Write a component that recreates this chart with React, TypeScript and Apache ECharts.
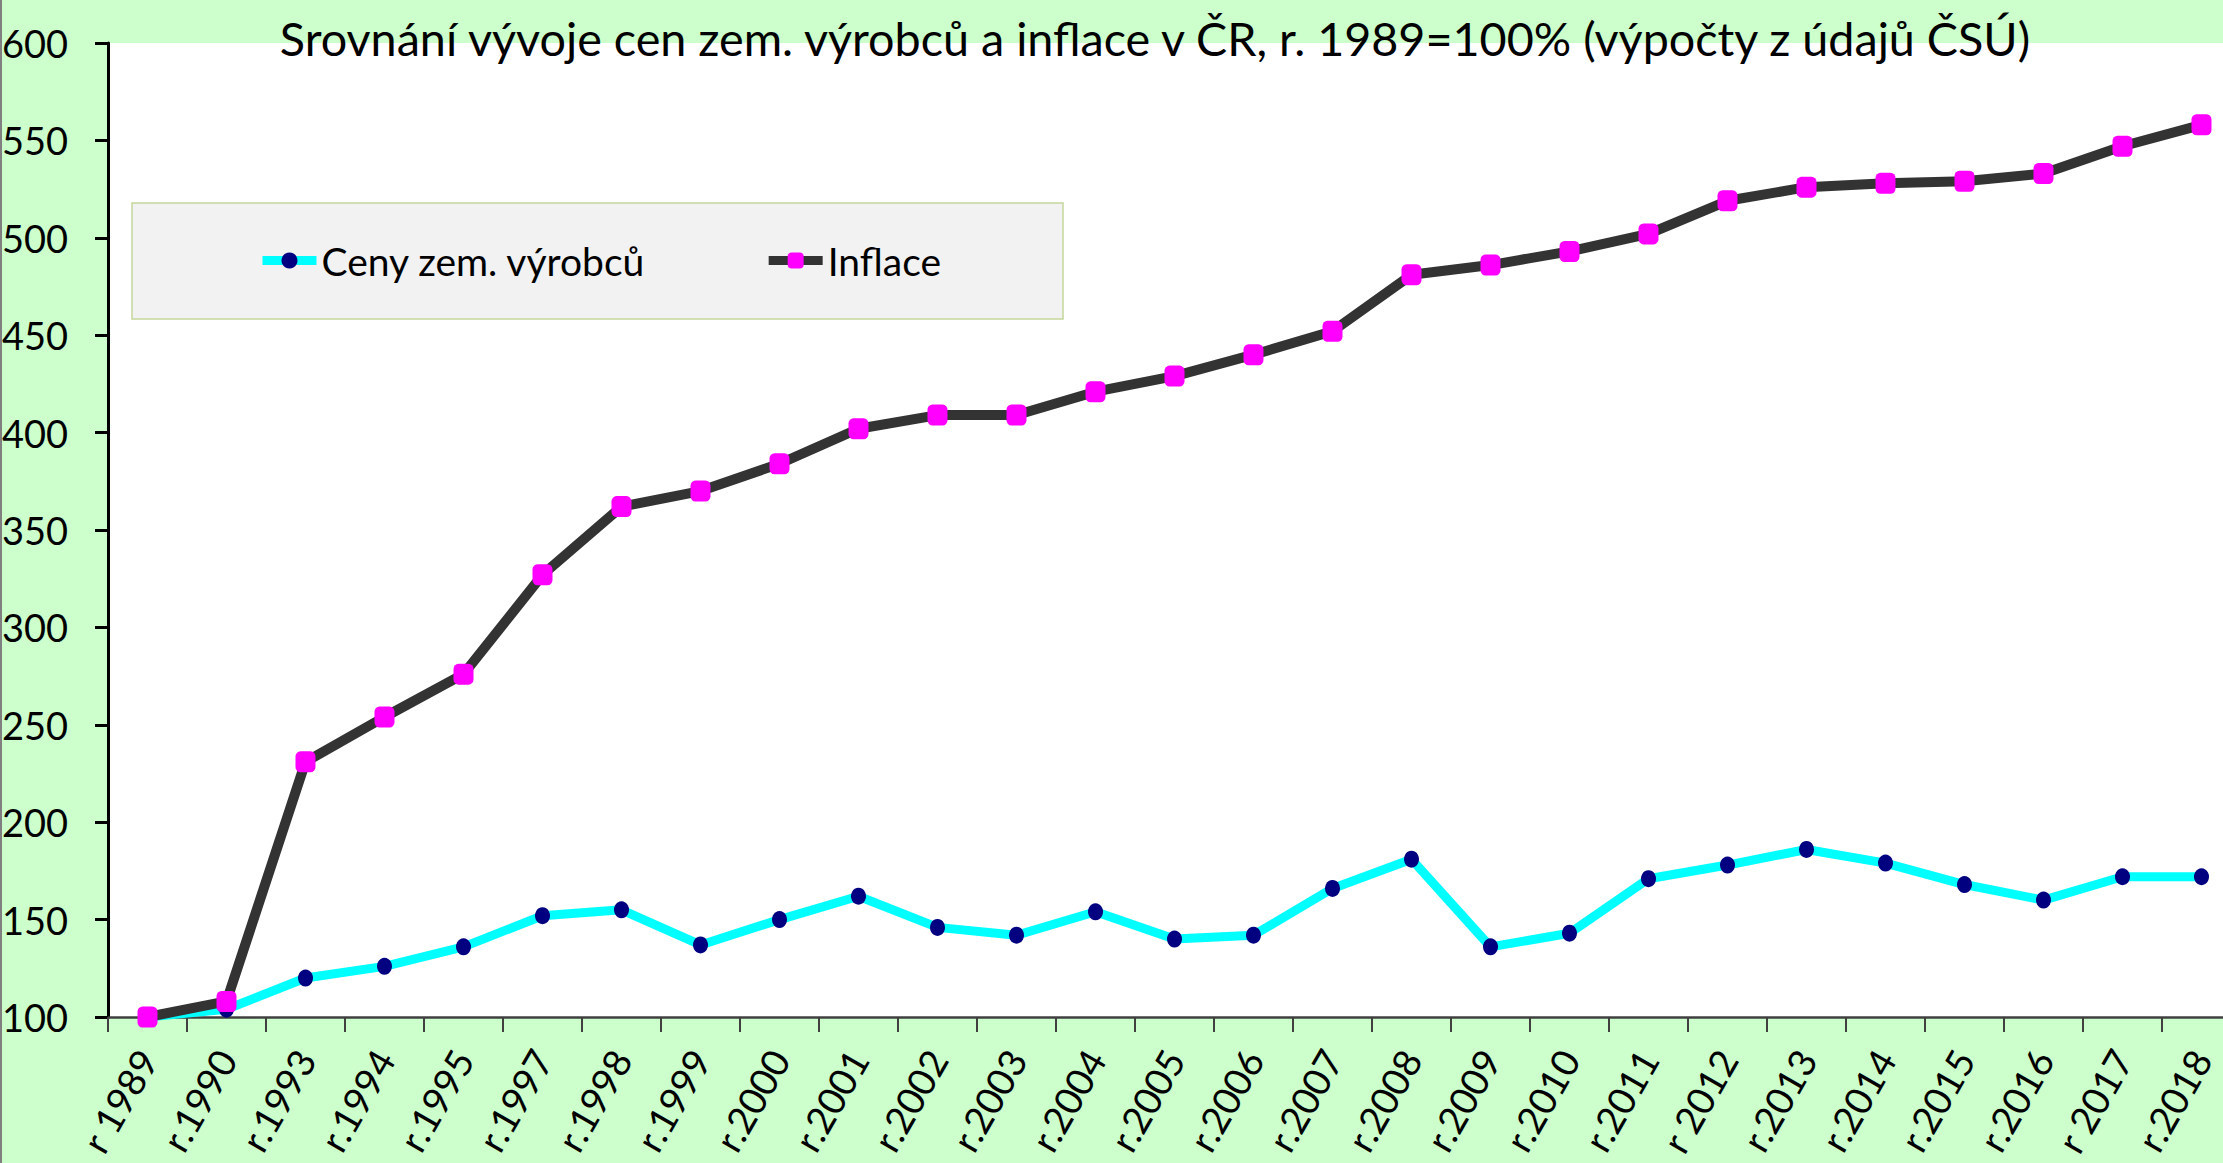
import React, { useEffect, useRef } from "react";
import * as echarts from "echarts";

const categories = [
  "r 1989", "r.1990", "r.1993", "r.1994", "r.1995", "r.1997", "r.1998", "r.1999", "r.2000",
  "r.2001", "r.2002", "r.2003", "r.2004", "r.2005", "r.2006", "r.2007", "r.2008", "r.2009",
  "r.2010", "r.2011", "r 2012", "r.2013", "r.2014", "r.2015", "r.2016", "r 2017", "r.2018",
];

const cenyZem = [100, 104, 120, 126, 136, 152, 155, 137, 150, 162, 146, 142, 154, 140, 142, 166, 181, 136, 143, 171, 178, 186, 179, 168, 160, 172, 172];
const inflace = [100, 108, 231, 254, 276, 327, 362, 370, 384, 402, 409, 409, 421, 429, 440, 452, 481, 486, 493, 502, 519, 526, 528, 529, 533, 547, 558];

const yMin = 100;
const yMax = 600;
const yStep = 50;

const titleText = "Srovnání vývoje cen zem. výrobců a inflace v ČR, r. 1989=100% (výpočty z údajů ČSÚ)";
const seriesNames = ["Ceny zem. výrobců", "Inflace"];

const FONT = "Lato, 'Noto Sans', sans-serif";
const CHART_W = 2250;
const CHART_H = 1163;

export default function App() {
  const ref = useRef<HTMLDivElement>(null);
  useEffect(() => {
    if (!ref.current) return;
    const chart = echarts.init(ref.current, null, { renderer: "svg" });
    chart.setOption({
      animation: false,
      backgroundColor: "#CCFFCC",
      textStyle: { fontFamily: FONT },
      title: {
        text: titleText,
        left: 1150,
        top: 9,
        textAlign: "center",
        textStyle: { fontFamily: FONT, fontSize: 46.7, fontWeight: "normal", color: "#000" },
      },
      graphic: [
        {
          type: "rect",
          z: 3,
          shape: { x: 132, y: 203, width: 931, height: 116 },
          style: { fill: "#F2F2F2", stroke: "#C3D69B", lineWidth: 1.5 },
        },
        {
          type: "line",
          z: 10,
          shape: { x1: 1, y1: 0, x2: 1, y2: CHART_H },
          style: { stroke: "#808080", lineWidth: 2 },
        },
      ],
      legend: {
        left: 253,
        top: 236,
        z: 5,
        itemWidth: 54,
        itemHeight: 20,
        itemGap: 118,
        lineStyle: { width: 9 },
        textStyle: { fontFamily: FONT, fontSize: 39, color: "#000" },
        data: seriesNames,
      },
      grid: {
        left: 108,
        top: 43,
        right: 9,
        bottom: 146,
        outerBoundsMode: "none",
        containLabel: false,
        show: true,
        backgroundColor: "#FFFFFF",
        borderWidth: 0,
      },
      xAxis: {
        type: "category",
        data: categories,
        boundaryGap: true,
        axisLine: { lineStyle: { color: "#404040", width: 2.5 } },
        axisTick: { show: true, length: 15, lineStyle: { color: "#404040", width: 2 } },
        axisLabel: {
          interval: 0,
          rotate: 60,
          margin: 36,
          fontSize: 38,
          lineHeight: 30,
          fontFamily: FONT,
          color: "#000",
        },
        splitLine: { show: false },
      },
      yAxis: {
        type: "value",
        min: yMin,
        max: yMax,
        interval: yStep,
        axisLine: { show: true, lineStyle: { color: "#000", width: 3 } },
        axisTick: { show: true, length: 13, lineStyle: { color: "#000", width: 3 } },
        axisLabel: { margin: 40, fontSize: 38, fontFamily: FONT, color: "#000" },
        splitLine: { show: false },
      },
      series: [
        {
          name: seriesNames[0],
          type: "line",
          data: cenyZem,
          symbol: "circle",
          symbolSize: [15, 17],
          showAllSymbol: true,
          lineStyle: { color: "#00FFFF", width: 9 },
          itemStyle: { color: "#000080" },
          z: 2,
        },
        {
          name: seriesNames[1],
          type: "line",
          data: inflace,
          symbol: "roundRect",
          symbolSize: [20, 21],
          showAllSymbol: true,
          lineStyle: { color: "#333333", width: 10 },
          itemStyle: { color: "#FF00FF" },
          z: 3,
        },
      ],
    });
    return () => chart.dispose();
  }, []);
  return (
    <div
      style={{ position: "absolute", left: 0, top: 0, width: 2223, height: 1163, overflow: "hidden" }}
    >
      <div ref={ref} style={{ width: CHART_W, height: CHART_H }} />
    </div>
  );
}
